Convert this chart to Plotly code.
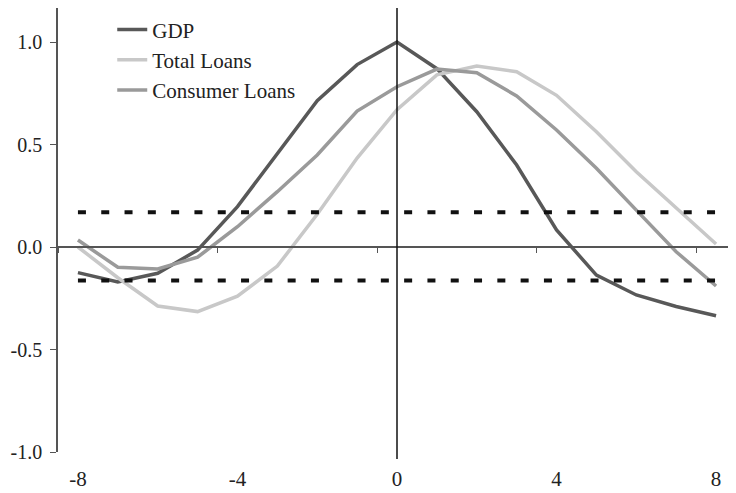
import plotly.graph_objects as go

lags = list(range(-8, 9))

gdp = [-0.125, -0.17, -0.128, -0.015, 0.197, 0.457, 0.714, 0.89, 1.0,
       0.87, 0.66, 0.40, 0.083, -0.137, -0.234, -0.29, -0.335]
total_loans = [0.0, -0.15, -0.288, -0.315, -0.24, -0.093, 0.16, 0.434, 0.67,
               0.84, 0.883, 0.855, 0.74, 0.562, 0.367, 0.189, 0.015]
consumer_loans = [0.034, -0.099, -0.107, -0.05, 0.099, 0.27, 0.449, 0.663, 0.782,
                  0.868, 0.85, 0.737, 0.571, 0.384, 0.18, -0.023, -0.19]

upper_band = [0.17] * len(lags)
lower_band = [-0.163] * len(lags)

x_tick_vals = [-8, -4, 0, 4, 8]
x_tick_text = ["-8", "-4", "0", "4", "8"]
x_axis_marks = [-8.5, -4.5, -0.5, 3.5, 7.5]
y_tick_vals = [-1.0, -0.5, 0.0, 0.5, 1.0]
y_tick_text = ["-1.0", "-0.5", "0.0", "0.5", "1.0"]

y_min, y_max = -1.0, 1.166
font_family = "Liberation Serif, Times New Roman, serif"

fig = go.Figure()

# confidence bands (drawn on the overlay axis that sits at y=0)
for band in (upper_band, lower_band):
    fig.add_trace(go.Scatter(x=lags, y=band, mode="lines", xaxis="x2",
                             line=dict(color="#111111", width=4, dash="8px,15.3px"),
                             showlegend=False, hoverinfo="skip"))

fig.add_trace(go.Scatter(x=lags, y=gdp, mode="lines", name="GDP",
                         line=dict(color="#585858", width=3.5)))
fig.add_trace(go.Scatter(x=lags, y=total_loans, mode="lines", name="Total Loans",
                         line=dict(color="#c8c8c8", width=3.5)))
fig.add_trace(go.Scatter(x=lags, y=consumer_loans, mode="lines", name="Consumer Loans",
                         line=dict(color="#9a9a9a", width=3.5)))

# vertical line at lag 0
fig.add_shape(type="line", xref="x", yref="paper", x0=0, x1=0, y0=-0.016, y1=1,
              line=dict(color="#111111", width=1.5))

zero_pos = (0 - y_min) / (y_max - y_min)

# page body has an 8px margin, so the figure is sized to fit the window
fig.update_layout(
    width=728, height=485,
    margin=dict(l=50, r=0, t=0, b=41),
    plot_bgcolor="white", paper_bgcolor="white",
    font=dict(family=font_family, size=21, color="#222222"),
    xaxis=dict(range=[-8.5, 8.5], tickvals=x_tick_vals, ticktext=x_tick_text,
               showline=False, showgrid=False, zeroline=False, ticks="",
               ticklabelstandoff=12, automargin=False),
    xaxis2=dict(range=[-8.5, 8.5], overlaying="x", anchor="free", position=zero_pos,
                side="bottom", showline=True, linecolor="#555555", linewidth=1.5,
                ticks="outside", ticklen=5, tickwidth=1.2, tickcolor="#555555",
                tickvals=x_axis_marks, showticklabels=False,
                showgrid=False, zeroline=False, automargin=False),
    yaxis=dict(range=[y_min, y_max], tickvals=y_tick_vals, ticktext=y_tick_text,
               tickfont=dict(size=20),
               showline=True, linecolor="#555555", linewidth=1.5,
               ticks="outside", ticklen=6, tickwidth=1.2, tickcolor="#555555",
               showgrid=False, zeroline=False, ticklabelstandoff=4, automargin=False),
    legend=dict(x=0.08, y=0.997, xanchor="left", yanchor="top",
                bgcolor="rgba(0,0,0,0)", font=dict(size=21, family=font_family)),
)

fig.write_html("out.html")
